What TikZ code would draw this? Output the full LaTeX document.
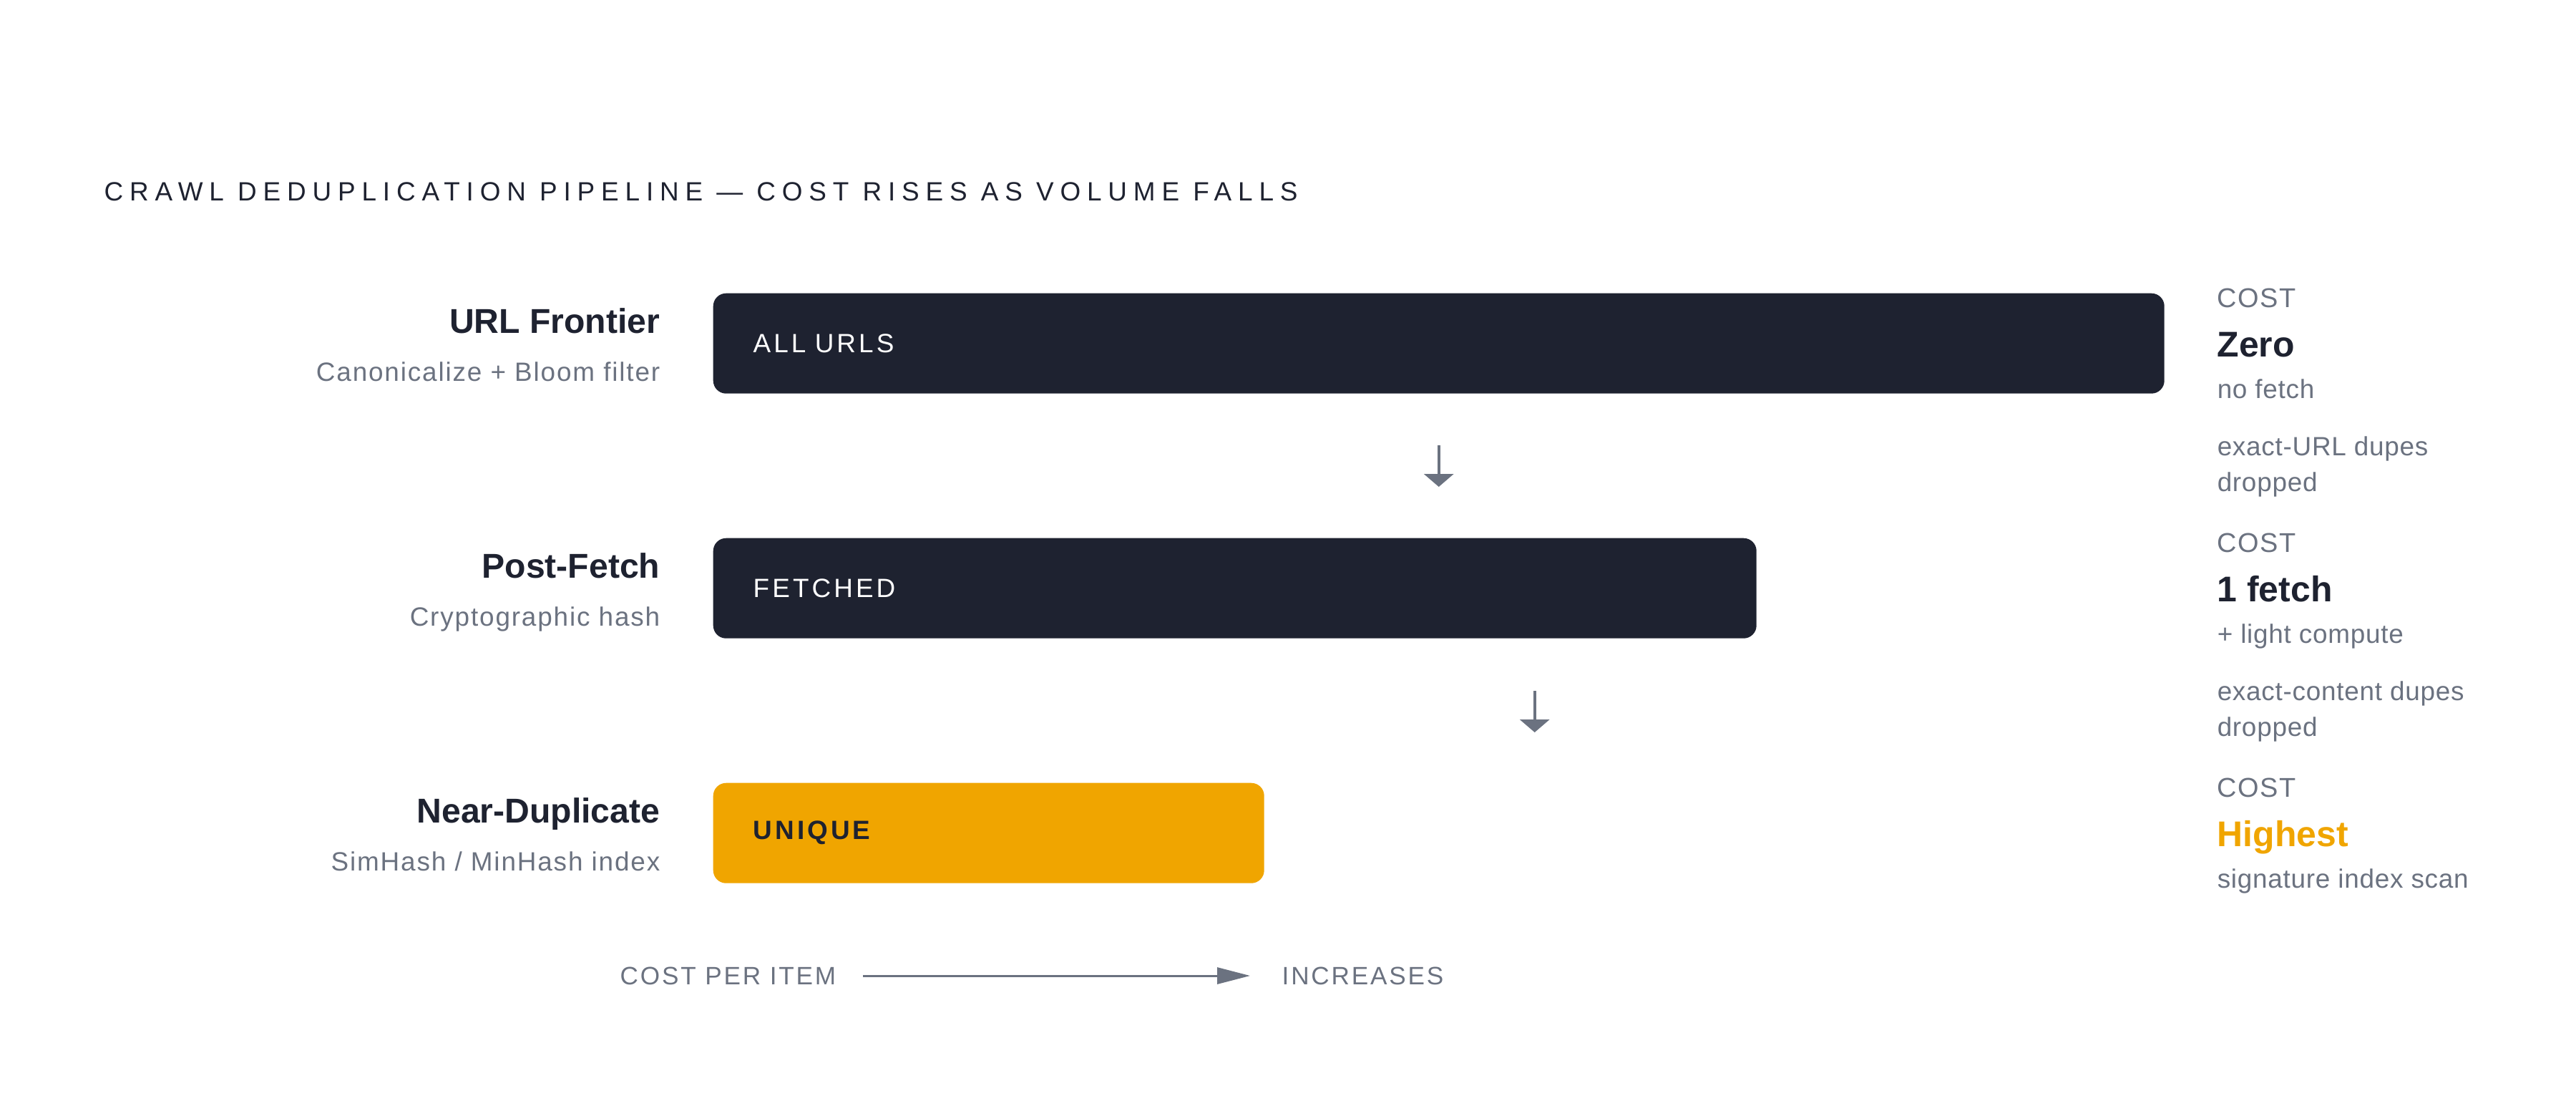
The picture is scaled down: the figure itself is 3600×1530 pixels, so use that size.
\documentclass[tikz,border=0pt]{standalone}
\usepackage{fontspec}
\setmainfont{Liberation Sans}
\newfontfamily\widefont[LetterSpace=24]{Liberation Sans}
\newfontfamily\capsfont[LetterSpace=11]{Liberation Sans}
\newfontfamily\tagfont[LetterSpace=4]{Liberation Sans}
\newfontfamily\axisfont[LetterSpace=8]{Liberation Sans}
\newfontfamily\softfont[LetterSpace=5]{Liberation Sans}
\newfontfamily\notefont[LetterSpace=2]{Liberation Sans}
\usetikzlibrary{arrows.meta}
\definecolor{ink}{HTML}{1E2230}
\definecolor{slate}{HTML}{6B7280}
\definecolor{amber}{HTML}{F0A500}
\tikzstyle{heading} = [anchor=base west, inner sep=0, text=ink, font=\widefont\fontsize{10.5}{13}\selectfont]
\tikzstyle{stage} = [anchor=base east, inner sep=0, text=ink, font=\bfseries\fontsize{13.7}{16}\selectfont]
\tikzstyle{method} = [anchor=base east, inner sep=0, text=slate, font=\softfont\fontsize{10.5}{13}\selectfont]
\tikzstyle{bar} = [rectangle, rounded corners=1.8mm, minimum height=14mm, inner xsep=5.6mm, align=left, anchor=north west, fill=ink, text=white, font=\capsfont\fontsize{10.5}{13}\selectfont]
\tikzstyle{costtag} = [anchor=base west, inner sep=0, text=slate, font=\tagfont\fontsize{10.8}{13}\selectfont]
\tikzstyle{costval} = [anchor=base west, inner sep=0, text=ink, font=\bfseries\fontsize{14.2}{17}\selectfont]
\tikzstyle{note} = [anchor=base west, inner sep=0, text=slate, font=\notefont\fontsize{10.5}{13}\selectfont]
\tikzstyle{axislabel} = [anchor=west, inner sep=0, text=slate, font=\axisfont\fontsize{10}{12}\selectfont]
\tikzstyle{arrow} = [-{Triangle[length=1.8mm, width=4.1mm]}, line width=0.4mm, draw=slate]
\tikzstyle{axisarrow} = [-{Triangle[length=4.6mm, width=2.3mm]}, line width=0.3mm, draw=slate]

\begin{document}
\begin{tikzpicture}[x=0.1mm, y=-0.1mm]
\useasboundingbox (0,0) rectangle (3600,1530);
\fill[white] (0,0) rectangle (3600,1530);
%title
\node[heading](title) at (145,280) {CRAWL DEDUPLICATION PIPELINE — COST RISES AS VOLUME FALLS};
%stages on the left
\node[stage](frontier) at (923,465) {URL Frontier};
\node[method](frontiersub) at (923,532) {Canonicalize + Bloom filter};
\node[stage](postfetch) at (923,807) {Post-Fetch};
\node[method](postfetchsub) at (923,874) {Cryptographic hash};
\node[stage](neardup) at (923,1149) {Near-Duplicate};
\node[method](neardupsub) at (923,1216) {SimHash / MinHash index};
%volume bars
\node[bar, text width=191.6mm](all) at (996,409) {ALL URLS};
\node[bar, text width=134.6mm](fetched) at (996,751) {FETCHED};
\node[bar, text width=65.8mm, fill=amber, text=ink, font=\capsfont\bfseries\fontsize{10.5}{13}\selectfont](unique) at (996,1093) {UNIQUE};
%cost column
\node[costtag](cost1) at (3098,429) {COST};
\node[costval](zero) at (3098,498) {Zero};
\node[note](nofetch) at (3098,556) {no fetch};
\node[note](urldrop) at (3098,636) {exact-URL dupes};
\node[note](urldrop2) at (3098,686) {dropped};
\node[costtag](cost2) at (3098,771) {COST};
\node[costval](onefetch) at (3098,840) {1 fetch};
\node[note](light) at (3098,898) {+ light compute};
\node[note](contentdrop) at (3098,978) {exact-content dupes};
\node[note](contentdrop2) at (3098,1028) {dropped};
\node[costtag](cost3) at (3098,1113) {COST};
\node[costval, text=amber](highest) at (3098,1182) {Highest};
\node[note](scan) at (3098,1240) {signature index scan};
%axis at the bottom
\node[axislabel](costper) at (866,1363) {COST PER ITEM};
\node[axislabel](increases) at (1791,1363) {INCREASES};
%connectors
\draw [arrow, shorten <=7.2mm, shorten >=7.1mm] (all.south) -- (all.south |- fetched.north);
\draw [arrow, shorten <=7.3mm, shorten >=7mm] ([xshift=41.9mm]fetched.south) -- ([xshift=41.9mm]fetched.south |- unique.north);
\draw [axisarrow, shorten <=3.7mm, shorten >=4.4mm] (costper.east) -- (increases.west);
\end{tikzpicture}
\end{document}
